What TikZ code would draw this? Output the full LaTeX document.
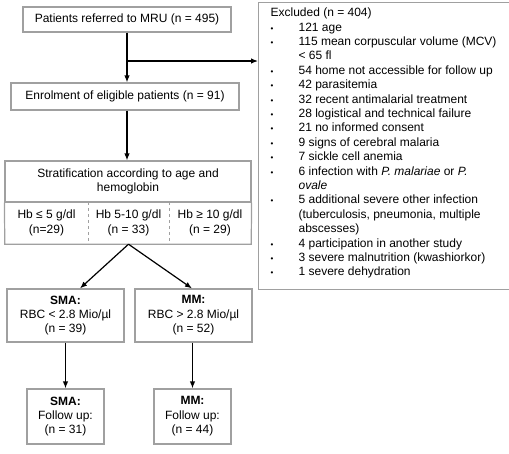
\documentclass[tikz,border=0pt]{standalone}
\usepackage{fontspec}
\setmainfont{Liberation Sans}
\usepackage{array}
\usetikzlibrary{arrows.meta, positioning}
\definecolor{boxgray}{HTML}{A0A0A0}

\newcommand{\bul}{{\footnotesize\textbullet}}

\begin{document}
\begin{tikzpicture}[x=1pt, y=-1pt, >={Latex[length=7pt,width=5.5pt]},
    font=\fontsize{12}{14.4}\selectfont,
    box/.style={draw=boxgray, line width=1.2pt, align=center, inner sep=0pt},
    flow/.style={->, line width=1.2pt, black}]
  \useasboundingbox (0,0) rectangle (509,453);

  % main column
  \node[box, minimum width=208pt, minimum height=25pt] (ref) at (127,19.5) {Patients referred to MRU (n = 495)};
  \node[box, minimum width=228pt, minimum height=27pt] (enrol) at (125,96.5) {Enrolment of eligible patients (n = 91)};
  \node[box, minimum width=246pt, minimum height=41pt] (strat) at (128,181.5) {Stratification according to age and\\hemoglobin};

  % hemoglobin groups
  \node[align=center, minimum width=83pt, minimum height=42pt, inner sep=0pt] (hbA) at (46.5,223) {Hb ≤ 5 g/dl\\(n=29)};
  \node[align=center, minimum width=81pt, minimum height=42pt, inner sep=0pt] (hbB) at (128.5,223) {Hb 5-10 g/dl\\(n = 33)};
  \node[align=center, minimum width=82pt, minimum height=42pt, inner sep=0pt] (hbC) at (210,223) {Hb ≥ 10 g/dl\\(n = 29)};
  \draw[draw=boxgray, line width=1.2pt] (strat.south west) -- (hbA.south west) -- (hbC.south east) -- (strat.south east);
  \draw[draw=boxgray, line width=0.8pt, dashed] (hbA.north east) -- (hbA.south east);
  \draw[draw=boxgray, line width=0.8pt, dashed] (hbB.north east) -- (hbB.south east);

  % groups
  \node[box, minimum width=117pt, minimum height=53pt] (sma) at (65.5,315.5) {\textbf{SMA:}\\RBC < 2.8 Mio/µl\\(n = 39)};
  \node[box, minimum width=117pt, minimum height=53pt] (mm) at (193.5,315.5) {\textbf{MM:}\\RBC > 2.8 Mio/µl\\(n = 52)};
  \node[box, minimum width=77pt, minimum height=55pt] (smaFU) at (65.5,416.5) {\textbf{SMA:}\\Follow up:\\(n = 31)};
  \node[box, minimum width=77pt, minimum height=55pt] (mmFU) at (192.5,416.5) {\textbf{MM:}\\Follow up:\\(n = 44)};

  % exclusions (right edge runs off the page)
  \node[box, anchor=north west, inner xsep=12pt, inner ysep=4pt] (excl) at (258,2) {%
    \begin{tabular}{@{}p{28pt}@{}p{221pt}@{}}
      \multicolumn{2}{@{}l@{}}{Excluded (n = 404)}\\
      \bul & 121 age\\
      \bul & 115 mean corpuscular volume (MCV)\\
           & < 65 fl\\
      \bul & 54 home not accessible for follow up\\
      \bul & 42 parasitemia\\
      \bul & 32 recent antimalarial treatment\\
      \bul & 28 logistical and technical failure\\
      \bul & 21 no informed consent\\
      \bul & 9 signs of cerebral malaria\\
      \bul & 7 sickle cell anemia\\
      \bul & 6 infection with \textit{P. malariae} or \textit{P.}\\
           & \textit{ovale}\\
      \bul & 5 additional severe other infection\\
           & (tuberculosis, pneumonia, multiple\\
           & abscesses)\\
      \bul & 4 participation in another study\\
      \bul & 3 severe malnutrition (kwashiorkor)\\
      \bul & 1 severe dehydration\\[5pt]
    \end{tabular}};

  % connectors
  \coordinate (split) at (ref.south |- 0,61);
  \draw[flow] (ref.south) -- (ref.south |- enrol.north);
  \draw[flow] (split) -- (split -| excl.west);
  \draw[flow] (ref.south |- enrol.south) -- (ref.south |- strat.north);
  \draw[flow] (hbB.south) -- ([xshift=14.5pt]sma.north);
  \draw[flow] (hbB.south) -- ([xshift=-1.5pt]mm.north);
  \draw[flow] (sma) -- (smaFU);
  \draw[flow] ([xshift=-1pt]mm.south) -- (mmFU);
\end{tikzpicture}
\end{document}
